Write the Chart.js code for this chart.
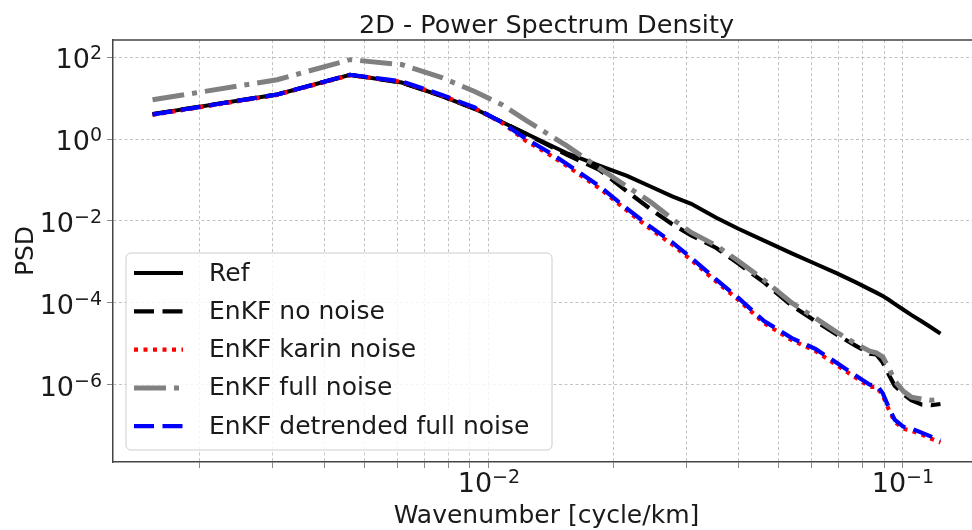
<!DOCTYPE html>
<html>
<head>
<meta charset="utf-8">
<script src="https://cdn.jsdelivr.net/npm/chart.js@4.4.1/dist/chart.umd.min.js"></script>
<style>
    html, body { margin: 0; padding: 0; background: #fff; overflow: hidden; }
    #wrap { width: 980px; height: 530px; }
</style>
</head>
<body>
<div id="wrap"><canvas id="psdChart" width="980" height="530"></canvas></div>
<script>
const wavenumber = [0.00154, 0.00308, 0.00462, 0.00616, 0.0077, 0.00924, 0.01078, 0.01232,
    0.01386, 0.0154, 0.01848, 0.02156, 0.02464, 0.02772, 0.0308, 0.03542, 0.04004, 0.0462,
    0.0539, 0.0616, 0.0693, 0.077, 0.08316, 0.08624, 0.08932, 0.0924, 0.09548, 0.1001,
    0.10472, 0.11088, 0.11704, 0.1232];

// PSD series
const psdRef = [4.07, 12.3, 37.0, 24.0, 11.2, 5.5, 2.57, 1.35, 0.76, 0.457, 0.224, 0.126,
    0.0684, 0.0398, 0.0263, 0.012, 0.00646, 0.00331, 0.00162, 8.9e-4, 5.25e-4, 3.16e-4,
    2.14e-4, 1.78e-4, 1.48e-4, 1.19e-4, 9.5e-5, 6.9e-5, 5.1e-5, 3.55e-5, 2.51e-5, 1.78e-5];
const psdNoNoise = [4.07, 12.3, 37.0, 24.0, 11.2, 5.5, 2.57, 1.32, 0.724, 0.417, 0.178, 0.0525,
    0.0191, 0.00832, 0.00447, 0.00219, 9.1e-4, 3.16e-4, 8.5e-5, 3.55e-5, 1.66e-5, 8.9e-6,
    5.75e-6, 5.5e-6, 3.55e-6, 1.78e-6, 9.5e-7, 6.0e-7, 4.2e-7, 3.3e-7, 3.16e-7, 3.4e-7];
const psdKarin = [3.9, 12.0, 36.5, 25.0, 11.6, 5.7, 2.45, 0.89, 0.445, 0.224, 0.063, 0.0178,
    0.0062, 0.00267, 0.00112, 3.3e-4, 1.18e-4, 3.2e-5, 1.23e-5, 6.6e-6, 3.0e-6, 1.48e-6,
    8.9e-7, 8.9e-7, 5.6e-7, 2.5e-7, 1.26e-7, 8.5e-8, 7.6e-8, 6.1e-8, 4.8e-8, 3.9e-8];
const psdFull = [9.1, 28.2, 87, 66, 31.6, 14.5, 6.8, 2.82, 1.35, 0.69, 0.195, 0.069,
    0.0288, 0.0112, 0.00525, 0.00251, 0.00105, 3.6e-4, 1.0e-4, 4.2e-5, 1.9e-5, 1.0e-5,
    6.6e-6, 6.0e-6, 4.8e-6, 2.63e-6, 1.26e-6, 7.1e-7, 5.0e-7, 4.5e-7, 4.2e-7, 4.4e-7];
const psdDetrended = [3.98, 12.3, 37.2, 25.7, 12.0, 5.9, 2.51, 1.0, 0.5, 0.251, 0.0708, 0.02,
    0.007, 0.003, 0.00126, 3.7e-4, 1.32e-4, 3.6e-5, 1.38e-5, 7.4e-6, 3.4e-6, 1.66e-6,
    1.0e-6, 1.0e-6, 6.3e-7, 2.8e-7, 1.41e-7, 9.5e-8, 8.5e-8, 6.8e-8, 5.4e-8, 4.4e-8];

const seriesLabels = ['Ref', 'EnKF no noise', 'EnKF karin noise', 'EnKF full noise', 'EnKF detrended full noise'];
const titleText = '2D - Power Spectrum Density';
const xTitle = 'Wavenumber [cycle/km]';
const yTitle = 'PSD';

// ticks (labels are powers of ten, given by their exponent)
const xTicks = [0.002, 0.003, 0.004, 0.005, 0.006, 0.007, 0.008, 0.009, 0.01,
    0.02, 0.03, 0.04, 0.05, 0.06, 0.07, 0.08, 0.09, 0.1];
const xLabelTicks = [0.01, 0.1];
const xLabelExp = ['−2', '−1'];
const yTicks = [1e2, 1, 1e-2, 1e-4, 1e-6];
const yLabelExp = ['2', '0', '−2', '−4', '−6'];

const toPoints = (ys) => wavenumber.map((k, i) => ({ x: k, y: ys[i] }));

const FONT = '"DejaVu Sans", sans-serif';
const TEXT = '#1a1a1a';
const gridStyle = {
    color: 'rgba(185,185,185,0.85)',
    lineWidth: 1,
    tickColor: '#888',
    tickLength: 6,
    tickWidth: 1
};
const borderStyle = { display: true, color: '#444', width: 1.5, dash: [3, 2.5] };

// "10" with a raised exponent, like matplotlib mathtext
function drawPow(ctx, exp, x, baseline, align) {
    ctx.font = '27px ' + FONT;
    const wb = ctx.measureText('10').width;
    ctx.font = '19px ' + FONT;
    const ws = ctx.measureText(exp).width;
    const x0 = align === 'right' ? x - wb - ws : x - (wb + ws) / 2;
    ctx.textAlign = 'left';
    ctx.textBaseline = 'alphabetic';
    ctx.font = '27px ' + FONT;
    ctx.fillText('10', x0, baseline);
    ctx.font = '19px ' + FONT;
    ctx.fillText(exp, x0 + wb, baseline - 9);
}

// titles, tick labels and top spine
const texts = {
    id: 'texts',
    afterDraw(chart) {
        const { ctx, chartArea, scales } = chart;
        const cx = (chartArea.left + chartArea.right) / 2;
        const cy = (chartArea.top + chartArea.bottom) / 2;
        ctx.save();
        ctx.fillStyle = TEXT;

        ctx.strokeStyle = '#444';
        ctx.lineWidth = 1.5;
        ctx.beginPath();
        ctx.moveTo(chartArea.left, chartArea.top);
        ctx.lineTo(chartArea.right, chartArea.top);
        ctx.stroke();

        ctx.textAlign = 'center';
        ctx.textBaseline = 'alphabetic';
        ctx.font = '25.5px ' + FONT;
        ctx.fillText(titleText, cx, 33);

        ctx.font = '25px ' + FONT;
        ctx.fillText(xTitle, cx, 523);

        ctx.save();
        ctx.translate(33, cy);
        ctx.rotate(-Math.PI / 2);
        ctx.fillText(yTitle, 0, 0);
        ctx.restore();

        xLabelTicks.forEach((v, i) => {
            drawPow(ctx, xLabelExp[i], scales.x.getPixelForValue(v), chartArea.bottom + 30, 'center');
        });
        yTicks.forEach((v, i) => {
            drawPow(ctx, yLabelExp[i], chartArea.left - 11, scales.y.getPixelForValue(v) + 11, 'right');
        });
        ctx.restore();
    }
};

// matplotlib style legend box in the lower left corner
const legendBox = {
    id: 'legendBox',
    afterDraw(chart) {
        const { ctx, chartArea } = chart;
        const w = 426, h = 197;
        const x = chartArea.left + 13;
        const y = chartArea.bottom - 12 - h;
        ctx.save();
        ctx.fillStyle = 'rgba(255,255,255,0.85)';
        ctx.strokeStyle = '#cccccc';
        ctx.lineWidth = 1;
        ctx.beginPath();
        ctx.roundRect(x, y, w, h, 5);
        ctx.fill();
        ctx.stroke();
        ctx.font = '25px ' + FONT;
        ctx.textAlign = 'left';
        ctx.textBaseline = 'middle';
        chart.data.datasets.forEach((ds, i) => {
            const ly = y + 20 + i * 38.3;
            ctx.strokeStyle = ds.borderColor;
            ctx.lineWidth = ds.borderWidth;
            ctx.setLineDash(ds.borderDash || []);
            ctx.beginPath();
            ctx.moveTo(x + 8, ly);
            ctx.lineTo(x + 57, ly);
            ctx.stroke();
            ctx.setLineDash([]);
            ctx.fillStyle = TEXT;
            ctx.fillText(ds.label, x + 83, ly + 1);
        });
        ctx.restore();
    }
};

const ctx = document.getElementById('psdChart').getContext('2d');
const psdChart = new Chart(ctx, { // eslint-disable-line
    type: 'line',
    data: {
        datasets: [
            {
                label: seriesLabels[0],
                data: toPoints(psdRef),
                borderColor: '#000000',
                borderWidth: 4,
                order: 5
            },
            {
                label: seriesLabels[1],
                data: toPoints(psdNoNoise),
                borderColor: '#000000',
                borderWidth: 4.2,
                borderDash: [20, 8.5],
                order: 4
            },
            {
                label: seriesLabels[2],
                data: toPoints(psdKarin),
                borderColor: '#ff0000',
                borderWidth: 4.2,
                borderDash: [4, 5.5],
                order: 3
            },
            {
                label: seriesLabels[3],
                data: toPoints(psdFull),
                borderColor: '#808080',
                borderWidth: 5,
                borderDash: [32, 8, 5, 8],
                order: 2
            },
            {
                label: seriesLabels[4],
                data: toPoints(psdDetrended),
                borderColor: '#0000ff',
                borderWidth: 4.2,
                borderDash: [20, 8.5],
                order: 1
            }
        ]
    },
    options: {
        responsive: false,
        animation: false,
        devicePixelRatio: 1,
        layout: { padding: { top: 40, left: 0, right: 0, bottom: 0 } },
        elements: {
            point: { radius: 0 },
            line: { tension: 0, fill: false }
        },
        plugins: {
            legend: { display: false },
            tooltip: { enabled: false },
            title: { display: false }
        },
        scales: {
            x: {
                type: 'logarithmic',
                min: 0.001236,
                max: 0.1535,
                grid: Object.assign({}, gridStyle),
                border: Object.assign({}, borderStyle),
                afterBuildTicks: (axis) => {
                    axis.ticks = xTicks.map(v => ({ value: v }));
                },
                afterFit: (axis) => { axis.height = 68; },
                ticks: {
                    autoSkip: false,
                    maxRotation: 0,
                    callback: () => ''
                }
            },
            y: {
                type: 'logarithmic',
                min: 1.3e-8,
                max: 263,
                grid: Object.assign({}, gridStyle),
                border: Object.assign({}, borderStyle),
                afterBuildTicks: (axis) => {
                    axis.ticks = yTicks.map(v => ({ value: v }));
                },
                afterFit: (axis) => { axis.width = 113; },
                ticks: {
                    autoSkip: false,
                    callback: () => ''
                }
            }
        }
    },
    plugins: [texts, legendBox]
});
</script>
</body>
</html>
